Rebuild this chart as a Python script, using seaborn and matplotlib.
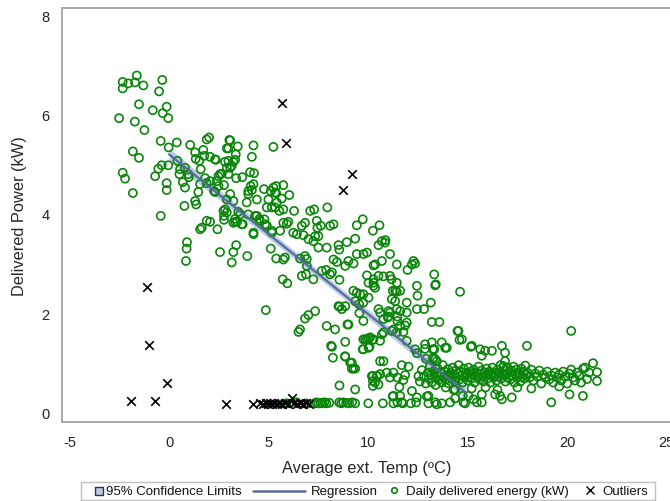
import matplotlib
matplotlib.use("Agg")
from matplotlib import pyplot as plt
from matplotlib.patches import Rectangle
import pandas as pd
import seaborn as sns

# daily points (average ext. temp in degC, delivered power in kW)
temp_daily = [
    -1.62, -2.33, -2.05, -1.71, -1.29, -2.33, -0.34, -0.5, -1.51, -0.82, -0.12, -0.32, -0.04, -2.51,
    -1.72, -1.24, -0.42, 0.39, -0.02, -1.82, -1.51, 1.06, 1.89, 2.01, -2.33, -2.21, -1.82, -0.42,
    -0.37, -0.54, -0.7, -0.04, 0.42, 0.55, 0.52, 0.8, 0.97, 0.99, 0.69, 0.8, -0.12, -0.12, 1.31, 1.34,
    1.72, 1.77, 1.52, 1.59, 2.06, 2.35, 1.81, 1.89, 1.56, 1.47, 2.26, 2.48, 2.65, 2.81, 2.98, 3.07,
    2.98, 3.45, 3.35, 3.32, 2.9, 3.15, 2.98, 3.37, 3.68, 4.16, 4.24, 4.07, 4.27, 5.24, 2.76, 2.31,
    3.07, 2.9, 3.23, 3.98, 4.16, 4.24, 4.77, 5.24, 5.33, 3.9, 4.41, 4.99, 5.16, 4.91, 1.31, 1.36,
    0.77, 1.89, 2.06, 1.64, 1.56, 2.43, 2.73, 2.9, 2.76, 3.32, 3.65, 3.98, 4.41, 4.54, 4.82, 4.24,
    5.16, 3.57, 3.42,
    3.03, 2.9, 2.31, 3.23, 3.07, 2.56, 2.4, 2.06, 2.48, 4.1, 3.98, 5.11, 5.38, 5.74, 5.38, 6.04, 5.66,
    5.41, 5.33, 5.54, 5.74, 6.28, 7.09, 7.29, 7.95, 2.81, 2.76, 3.48, 4.32, 4.54, 4.79, 3.32, 3.23,
    3.7, 4.91, 5.16, 5.74, 5.99, 5.91, 5.58, 6.24, 6.67, 6.83, 7.42, 7.45, 7.62, 8.09, 8.26, 9.43,
    9.73, 10.57, 10.24, 10.69, 10.87, 10.52, 6.42, 6.75, 7.0, 7.34, 7.5, 7.25, 7.5, 7.92, 8.51, 8.55,
    8.93, 9.35, 2.56, 3.15, 3.23, 3.37, 3.93, 4.24, 5.11, 5.38, 5.74, 5.82, 6.83, 6.92, 6.58, 6.92,
    6.67, 5.71, 5.94, 7.25, 7.89, 8.18, 8.26, 8.43, 8.85, 9.01, 9.27, 9.43, 9.77, 9.94, 10.27, 10.69,
    11.1, 9.94, 10.52, 11.1, 10.27, 10.35, 11.18, 11.44, 11.24, 11.44, 9.26, 9.43, 7.67,
    6.88, 8.09, 8.56, 7.34, 7.0, 6.83, 6.58, 6.5, 7.92, 8.34, 8.56, 8.85, 8.96, 9.6, 9.56, 9.76, 8.18,
    8.23, 8.85, 8.85, 9.18, 9.35, 9.1, 9.73, 9.85, 10.02, 10.07, 10.24, 10.69, 10.6, 10.77, 10.24,
    10.24, 10.43, 10.6, 10.52, 10.24, 10.94, 11.1, 11.27, 11.47, 11.57, 11.77, 11.86, 11.69, 12.03,
    10.77, 11.27, 11.77, 11.86, 11.94, 11.44, 11.47, 11.1, 10.99, 10.52, 11.36, 12.45, 12.81, 13.15,
    13.2, 13.58, 12.45, 13.37, 13.32, 14.62, 12.36, 11.94, 13.7, 13.95, 14.54, 14.71, 15.16, 12.36,
    12.45, 12.86, 12.91, 13.32, 13.25, 12.53, 8.56, 9.35, 11.24, 12.95, 14.37, 14.76,
    13.4, 12.48, 12.28, 12.2, 11.98, 10.85, 10.35, 10.27, 10.77, 10.02, 9.76, 10.02, 10.27, 11.44,
    11.36, 11.19, 11.61, 11.94, 11.61, 11.47, 11.94, 11.61, 11.19, 11.44, 10.6, 11.02, 11.02, 10.77,
    9.35, 9.55, 9.76, 8.68, 8.51, 9.01, 8.14, 8.84, 9.18, 9.26, 9.76, 9.94, 10.1, 9.76, 10.02, 10.27,
    10.6, 10.19, 10.47, 10.35, 12.86, 13.2, 13.28, 13.45, 15.21, 15.63, 15.71, 15.88, 16.22, 16.72,
    16.88, 16.88, 16.8, 17.98, 20.2, 14.49, 14.59, 13.87, 4.86, 0.85, 0.9, 0.88, 13.25, 13.37,
    7.3, 7.4, 7.5, 7.6, 7.7, 7.8, 7.9, 8.05, 8.55, 8.65, 8.75, 8.9, 9.05, 9.2, 9.35, 10.01, 10.74,
    11.27, 11.47, 11.74, 12.15, 12.41, 13.03, 13.7, 14.12, 14.87, 15.46, 11.69, 11.61, 11.27, 12.45,
    12.2, 13.03, 13.37, 14.37, 14.79, 15.04, 15.29, 15.71, 15.71, 16.38, 16.63, 16.72, 17.22, 19.2,
    20.12, 20.79, 13.45, 5.9, 6.4, 6.9,
    12.6, 12.7, 12.8, 12.9, 13.0, 13.05, 13.1, 13.15, 13.2, 13.3, 13.35, 13.4, 13.45, 13.5, 13.55,
    13.6, 13.65, 13.7, 13.75, 13.8, 13.85, 13.9, 13.95, 14.0, 14.05, 14.1, 14.15, 14.2, 14.25, 14.3,
    14.35, 14.4, 14.45, 14.5, 14.55, 14.6, 14.65, 14.7, 14.75, 14.8, 14.85, 14.9, 14.95, 15.0, 15.05,
    15.1, 15.15, 15.2, 15.25, 15.3, 15.35, 15.4, 15.45, 15.5, 15.55, 15.6, 15.65, 15.7, 15.75, 15.8,
    15.85, 15.9, 15.95, 16.0, 16.05, 16.1, 16.15, 16.2, 16.25, 16.3, 16.35, 16.4, 16.45, 16.5, 16.55,
    16.6, 16.65, 16.7, 16.75, 16.8, 16.85, 16.9, 16.95, 17.0, 17.05, 17.1, 17.15, 17.2, 17.25, 17.3,
    17.35, 17.4, 17.45, 17.5, 17.55, 17.6, 17.65, 17.7, 17.75, 17.8, 17.85, 17.9, 17.95, 18.0, 18.1,
    18.2, 18.3, 18.4, 18.5, 18.6, 18.7, 18.8, 18.9, 19.0, 19.1, 19.2, 19.3, 19.4, 19.5, 19.6, 19.7,
    19.8, 19.9, 20.0, 20.1, 20.2, 20.3, 20.4, 20.5, 20.6, 20.7, 20.8, 20.9, 21.0, 21.1, 21.3, 21.5,
    21.5, 13.9, 14.3, 15.2, 15.9, 16.5, 17.5, 18.2, 19.6,
]
power_daily = [
    6.79, 6.66, 6.63, 6.65, 6.59, 6.53, 6.70, 6.47, 6.21, 6.09, 6.16, 6.03, 5.93, 5.93,
    5.86, 5.69, 5.47, 5.44, 5.34, 5.26, 5.13, 5.39, 5.50, 5.54, 4.83, 4.71, 4.42, 3.96,
    4.98, 4.91, 4.76, 4.98, 5.07, 4.9, 4.8, 4.93, 4.8, 4.74, 4.64, 4.53, 4.62, 4.48, 5.24, 5.11,
    5.29, 5.17, 5.07, 4.9, 5.15, 5.09, 4.72, 4.62, 4.6, 4.44, 4.46, 4.76, 4.81, 5.05, 5.07, 5.48,
    5.32, 5.36, 5.2, 5.09, 4.93, 4.97, 4.8, 4.72, 4.74, 5.15, 5.38, 4.84, 4.82, 5.35, 4.58, 4.44,
    4.4, 4.29, 4.26, 4.4, 4.48, 4.6, 4.5, 4.53, 4.43, 4.23, 4.29, 4.29, 4.13, 4.13, 4.26, 4.19,
    4.16, 3.86, 3.84, 3.72, 3.69, 3.69, 4.06, 4.03, 3.88, 3.84, 3.79, 3.99, 3.96, 3.86, 3.79, 3.62,
    3.66, 3.99, 3.84,
    5.49, 5.32, 5.1, 5.05, 4.93, 4.8, 4.66, 4.66, 4.56, 4.56, 4.46, 4.46, 4.56, 4.58, 4.42, 4.38, 4.31,
    4.23, 4.13, 4.06, 4.09, 4.06, 4.06, 4.09, 4.13, 4.09, 3.96, 4.04, 3.96, 3.9, 3.89, 3.9, 3.82,
    3.79, 3.76, 3.62, 3.82, 3.84, 3.8, 3.66, 3.62, 3.76, 3.82, 3.86, 3.72, 3.76, 3.76, 3.79, 3.77,
    3.89, 3.77, 3.66, 3.45, 3.47, 3.37, 3.59, 3.57, 3.49, 3.55, 3.55, 3.45, 3.32, 3.32, 3.37, 3.28,
    3.43, 3.5, 3.23, 3.02, 3.23, 3.37, 3.15, 3.59, 3.3, 3.1, 3.08, 3.12, 3.15, 3.09, 3.1, 2.95,
    2.75, 2.68, 2.6, 2.68, 2.87, 2.82, 3.08, 3.03, 2.95, 3.05, 3.0, 3.19, 3.19, 3.22, 2.96, 3.05,
    3.19, 2.76, 2.75, 2.75, 2.61, 2.51, 2.68, 2.98, 2.45, 2.43, 2.45, 2.41, 2.85,
    2.78, 2.78, 2.67, 2.04, 1.96, 1.89, 1.67, 1.62, 1.74, 1.67, 2.13, 2.14, 1.77, 2.38, 2.0, 1.84, 1.32,
    1.1, 1.42, 1.12, 0.88, 0.88, 1.0, 1.27, 1.47, 1.49, 1.32, 1.46, 1.57, 1.44, 1.03, 0.73,
    0.63, 0.73, 0.77, 0.56, 0.53, 0.8, 0.7, 0.8, 0.7, 0.51, 0.65, 0.75, 0.95, 0.92,
    1.61, 1.67, 1.62, 1.75, 1.44, 2.08, 1.84, 2.01, 1.91, 2.08, 2.24, 2.08, 2.08, 2.21,
    1.82, 1.82, 2.55, 2.56, 2.78, 2.43, 3.0, 2.21, 1.41, 1.3, 1.64, 1.47, 1.32, 1.27,
    1.19, 1.28, 1.08, 1.27, 1.08, 0.73, 0.54, 0.46, 0.32, 0.32, 0.46, 0.33,
    2.58, 2.35, 3.05, 2.98, 2.87, 3.42, 2.98, 2.68, 2.74, 2.61, 2.38, 2.31, 2.55, 2.61,
    2.45, 2.28, 2.45, 2.01, 2.04, 1.93, 1.81, 1.74, 1.64, 1.61, 2.01, 2.04, 1.93, 1.88,
    2.24, 2.18, 2.21, 2.08, 2.14, 1.77, 1.34, 1.13, 1.0, 0.88, 1.47, 1.47, 1.51, 1.27, 1.3, 1.47,
    1.03, 0.73, 0.73, 0.6, 1.37, 1.41, 1.1, 1.03, 1.34, 1.27, 1.14, 1.24, 1.24, 1.34,
    1.2, 1.03, 0.93, 1.34, 1.64, 1.64, 1.46, 1.3, 2.06, 3.05, 3.43, 3.3, 1.27, 1.07,
    0.18, 0.2, 0.18, 0.19, 0.18, 0.2, 0.18, 0.19, 0.2, 0.18, 0.2, 0.19, 0.18, 0.2, 0.18, 0.18, 0.18,
    0.18, 0.2, 0.18, 0.18, 0.2, 0.18, 0.18, 0.2, 0.18, 0.2, 0.2, 0.33, 0.33, 0.3,
    0.43, 0.33, 0.2, 0.28, 0.2, 0.33, 0.26, 0.36, 0.2, 0.36, 0.33, 0.26, 0.3, 0.2,
    0.36, 0.33, 0.16, 0.18, 0.2, 0.18,
    0.62, 0.85, 0.72, 0.58, 0.8, 0.68, 0.92, 0.75, 0.6, 0.83, 0.7, 0.55, 0.78, 0.88, 0.65,
    0.72, 0.8, 0.6, 0.95, 0.7, 0.82, 0.66, 0.75, 0.87, 0.58, 0.72, 0.8, 0.68, 0.9, 0.76,
    0.62, 0.84, 0.7, 0.78, 0.95, 0.66, 0.82, 0.74, 0.6, 0.88, 0.7, 0.8, 0.76, 0.64, 0.9,
    0.72, 0.82, 0.68, 0.78, 0.86, 0.6, 0.74, 0.8, 0.7, 0.92, 0.66, 0.78, 0.84, 0.72, 0.62,
    0.8, 0.74, 0.88, 0.68, 0.78, 0.82, 0.6, 0.74, 0.9, 0.7, 0.8, 0.76, 0.64, 0.86, 0.72,
    0.8, 0.95, 0.68, 0.78, 0.74, 0.84, 0.62, 0.76, 0.9, 0.7, 0.8, 0.66, 0.84, 0.74, 0.92,
    0.6, 0.78, 0.86, 0.7, 0.8, 0.76, 0.62, 0.88, 0.72, 0.82, 0.68, 0.94, 0.76, 0.8, 0.7,
    0.86, 0.64, 0.78, 0.72, 0.84, 0.58, 0.76, 0.7, 0.82, 0.66, 0.74, 0.6, 0.8, 0.7, 0.76, 0.64,
    0.82, 0.72, 0.58, 0.78, 0.86, 0.7, 0.64, 0.8, 0.74, 0.6, 0.88, 0.9, 0.67, 0.8, 0.99, 0.81,
    0.63, 0.5, 0.45, 0.48, 0.5, 0.45, 0.5, 0.48, 0.52,
]

# outliers
temp_out = [-1.12, -1.02, -0.12, -1.92, -0.7, 2.86, 5.68, 5.86, 9.21, 8.73,
            4.24, 4.55, 4.7, 4.85, 4.95, 5.05, 5.15, 5.25, 5.4, 5.5, 5.65, 5.8, 6.0, 6.17,
            6.3, 6.45, 6.6, 6.75, 6.9, 7.05]
power_out = [2.53, 1.35, 0.6, 0.23, 0.23, 0.16, 6.23, 5.42, 4.81, 4.48,
             0.16, 0.18, 0.17, 0.18, 0.16, 0.18, 0.17, 0.18, 0.16, 0.18, 0.17, 0.18, 0.17, 0.28,
             0.18, 0.16, 0.18, 0.17, 0.18, 0.17]

# fitted regression and 95% limits
reg_temp = [0.0, 3.0, 6.0, 9.0, 12.0, 14.9]
reg_fit = [5.2, 4.23, 3.27, 2.30, 1.34, 0.40]
reg_lower = [5.07, 4.14, 3.19, 2.22, 1.24, 0.27]
reg_upper = [5.33, 4.32, 3.35, 2.38, 1.44, 0.53]

legend_labels = ["95% Confidence Limits", "Regression", "Daily delivered energy (kW)", "Outliers"]

daily = pd.DataFrame({"temp": temp_daily, "power": power_daily})
outl = pd.DataFrame({"temp": temp_out, "power": power_out})
reg = pd.DataFrame({"temp": reg_temp, "fit": reg_fit, "lo": reg_lower, "hi": reg_upper})

sns.set_theme(style="white")
plt.rcParams['font.family'] = ['Liberation Sans', 'DejaVu Sans']
plt.rcParams['axes.unicode_minus'] = False

green = "#0a850a"
line_col = "#5a6b9b"
band_col = "#b9cbe5"
spine_col = "#a8a8a8"

fig = plt.figure(figsize=(6.7, 5.02), dpi=100)
ax = fig.add_axes([0.0925, 0.157, 0.91, 0.825])

ax.fill_between(reg["temp"], reg["lo"], reg["hi"], color=band_col, lw=0, zorder=1)
sns.scatterplot(data=daily, x="temp", y="power", ax=ax, marker="o", s=34,
                facecolors="none", edgecolor=green, linewidth=1.2, zorder=2)
sns.scatterplot(data=outl, x="temp", y="power", ax=ax, marker="x", s=38,
                color="black", linewidth=1.2, zorder=3)
sns.lineplot(data=reg, x="temp", y="fit", ax=ax, color=line_col, lw=1.6, zorder=4)

ax.set_xlim(-5.38, 25.25)
ax.set_ylim(-0.2, 8.15)
ax.set_xticks([-5, 0, 5, 10, 15, 20, 25])
ax.set_yticks([0, 2, 4, 6, 8])
ax.set_xlabel("Average ext. Temp (ºC)", fontsize=11.8, labelpad=8)
ax.set_ylabel("Delivered Power (kW)", fontsize=11.8, labelpad=10)
ax.tick_params(axis="both", direction="out", length=5, width=1, color=spine_col,
               labelsize=10.5, pad=4, labelcolor="#222222")
for side in ["left", "bottom", "top", "right"]:
    ax.spines[side].set_color(spine_col)
    ax.spines[side].set_linewidth(1.4)

# legend drawn by hand in a small box under the plot (pixel units), so the
# regression key can be longer than the other keys as in the SAS output
lx0, lx1, ly0, ly1 = 81, 655, 483, 501
lax = fig.add_axes([lx0 / 670, 1 - ly1 / 502, (lx1 - lx0) / 670, (ly1 - ly0) / 502])
lax.set_xlim(lx0, lx1)
lax.set_ylim(ly1, ly0)
lax.set_xticks([])
lax.set_yticks([])
for side in lax.spines.values():
    side.set_color("#c0c0c0")
    side.set_linewidth(1.0)
yc = (ly0 + ly1) / 2
lax.add_patch(Rectangle((95, yc - 4), 8, 8, facecolor=band_col, edgecolor="#333333", lw=1))
lax.plot([253, 305], [yc, yc], color=line_col, lw=1.8)
lax.plot([394], [yc - 1], marker="o", ms=4, mfc="none", mec=green, mew=1.2, ls="")
lax.plot([590], [yc - 1], marker="x", ms=6, color="black", mew=1, ls="")
for xpos, txt in zip([106, 311, 406, 602], legend_labels):
    lax.text(xpos, yc + 0.5, txt, fontsize=9.5, va="center", ha="left", color="#111111")

plt.savefig("out.png", dpi=100)
plt.close()
